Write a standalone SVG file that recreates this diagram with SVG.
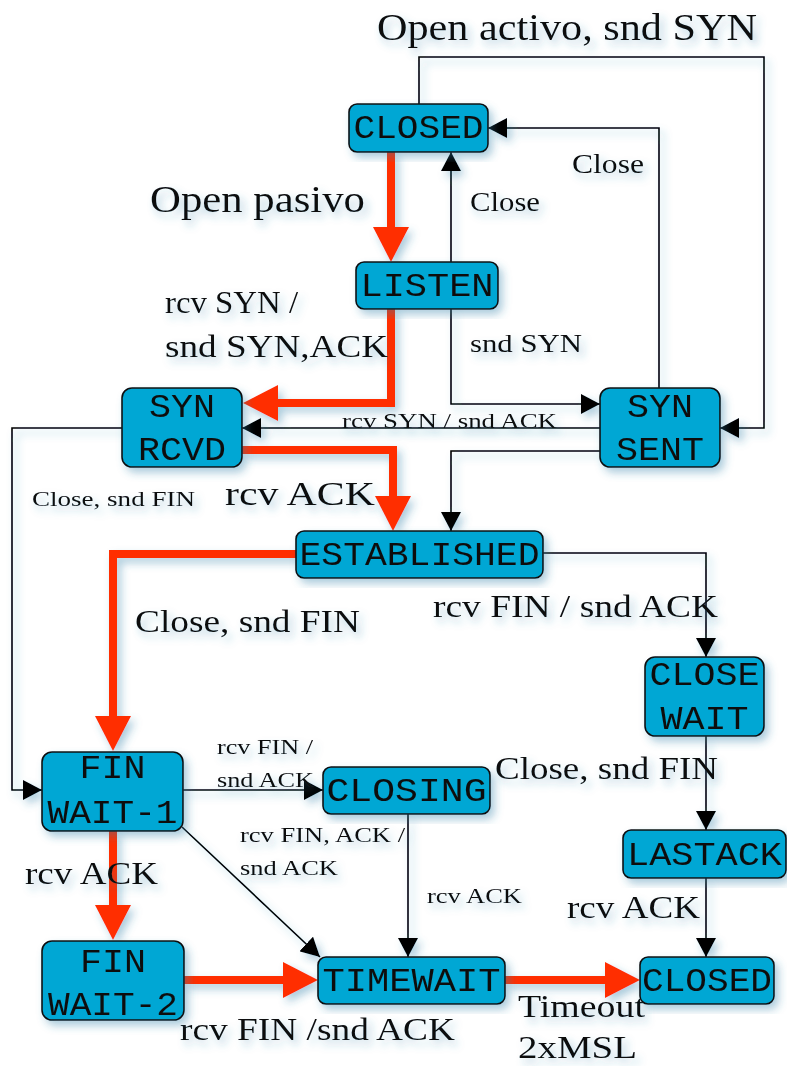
<svg xmlns="http://www.w3.org/2000/svg" width="787" height="1066" viewBox="0 0 787 1066">
<defs>
<filter id="sh" x="-20%" y="-20%" width="140%" height="140%">
<feDropShadow dx="4" dy="5" stdDeviation="4" flood-color="#2f7fa8" flood-opacity="0.4"/>
</filter>
<marker id="ab" markerUnits="userSpaceOnUse" markerWidth="20" markerHeight="20" refX="19" refY="10" orient="auto">
<path d="M0,0 L19,10 L0,20 z" fill="#000"/>
</marker>
<marker id="ar" markerUnits="userSpaceOnUse" markerWidth="36" markerHeight="36" refX="0" refY="18" orient="auto">
<path d="M0,0 L35,18 L0,36 z" fill="#ff2e00"/>
</marker>
</defs>
<style>
.n rect{fill:#00a7d4;stroke:#111;stroke-width:1.6}
.n text{font-family:"Liberation Mono","Courier New",monospace;font-size:34px;fill:#111;text-anchor:middle}
.b{fill:none;stroke:#000;stroke-width:1.6;marker-end:url(#ab)}
.r{fill:none;stroke:#ff2e00;stroke-width:8;marker-end:url(#ar)}
.l{font-family:"Liberation Serif","Times New Roman",serif;fill:#111}
</style>
<rect width="787" height="1066" fill="#fff"/>
<g id="connectors" filter="url(#sh)">
<path class="b" d="M419,104 V57 H764 V428 H720"/>
<path class="b" d="M659,388 V128 H488"/>
<path class="b" d="M451,262 V152"/>
<path class="b" d="M451,309 V404 H600"/>
<path class="b" d="M600,428 H242"/>
<path class="b" d="M600,451 H451 V531"/>
<path class="b" d="M122,428 H12 V790 H42"/>
<path class="b" d="M543,553 H706 V657"/>
<path class="b" d="M706,736 V830"/>
<path class="b" d="M706,878 V957"/>
<path class="b" d="M183,790 H323"/>
<path class="b" d="M182,827 L320,957"/>
<path class="b" d="M408,814 V957"/>
<path class="r" d="M391,152 V227"/>
<path class="r" d="M391,309 V403 H278"/>
<path class="r" d="M242,450 H393 V496"/>
<path class="r" d="M296,554 H113 V716"/>
<path class="r" d="M113,831 V905"/>
<path class="r" d="M184,980 H283"/>
<path class="r" d="M505,980 H605"/>
</g>
<g id="labels" class="l" filter="url(#sh)">
<text x="377" y="40" font-size="38" textLength="380" lengthAdjust="spacingAndGlyphs">Open activo, snd SYN</text>
<text x="572" y="173" font-size="27" textLength="72" lengthAdjust="spacingAndGlyphs">Close</text>
<text x="150" y="212" font-size="38" textLength="215" lengthAdjust="spacingAndGlyphs">Open pasivo</text>
<text x="470" y="211" font-size="27" textLength="70" lengthAdjust="spacingAndGlyphs">Close</text>
<text x="165" y="313" font-size="32" textLength="133" lengthAdjust="spacingAndGlyphs">rcv SYN /</text>
<text x="165" y="357" font-size="32" textLength="223" lengthAdjust="spacingAndGlyphs">snd SYN,ACK</text>
<text x="470" y="352" font-size="26" textLength="112" lengthAdjust="spacingAndGlyphs">snd SYN</text>
<text x="342" y="428" font-size="22" textLength="215" lengthAdjust="spacingAndGlyphs">rcv SYN / snd ACK</text>
<text x="225" y="505" font-size="33" textLength="150" lengthAdjust="spacingAndGlyphs">rcv ACK</text>
<text x="32" y="506" font-size="21" textLength="163" lengthAdjust="spacingAndGlyphs">Close,  snd FIN</text>
<text x="135" y="632" font-size="31" textLength="225" lengthAdjust="spacingAndGlyphs">Close, snd FIN</text>
<text x="433" y="617" font-size="31" textLength="285" lengthAdjust="spacingAndGlyphs">rcv FIN / snd ACK</text>
<text x="495" y="779" font-size="31" textLength="223" lengthAdjust="spacingAndGlyphs">Close, snd FIN</text>
<text x="217" y="754" font-size="20" textLength="96" lengthAdjust="spacingAndGlyphs">rcv FIN /</text>
<text x="217" y="787" font-size="20" textLength="97" lengthAdjust="spacingAndGlyphs">snd ACK</text>
<text x="240" y="842" font-size="22" textLength="165" lengthAdjust="spacingAndGlyphs">rcv FIN, ACK /</text>
<text x="240" y="875" font-size="22" textLength="98" lengthAdjust="spacingAndGlyphs">snd ACK</text>
<text x="427" y="903" font-size="21" textLength="95" lengthAdjust="spacingAndGlyphs">rcv ACK</text>
<text x="25" y="884" font-size="31" textLength="133" lengthAdjust="spacingAndGlyphs">rcv ACK</text>
<text x="567" y="918" font-size="31" textLength="133" lengthAdjust="spacingAndGlyphs">rcv ACK</text>
<text x="180" y="1040" font-size="31" textLength="275" lengthAdjust="spacingAndGlyphs">rcv FIN /snd ACK</text>
<text x="518" y="1017" font-size="31" textLength="127" lengthAdjust="spacingAndGlyphs">Timeout</text>
<text x="518" y="1058" font-size="31" textLength="119" lengthAdjust="spacingAndGlyphs">2xMSL</text>
</g>
<g id="closed-top" class="n" filter="url(#sh)"><rect x="349" y="104" width="139" height="48" rx="8"/><text x="418.5" y="138" textLength="130" lengthAdjust="spacingAndGlyphs">CLOSED</text></g>
<g id="listen" class="n" filter="url(#sh)"><rect x="356" y="262" width="142" height="47" rx="8"/><text x="427" y="296" textLength="133" lengthAdjust="spacingAndGlyphs">LISTEN</text></g>
<g id="syn-rcvd" class="n" filter="url(#sh)"><rect x="122" y="388" width="120" height="79" rx="10"/><text x="182" y="417" textLength="66" lengthAdjust="spacingAndGlyphs">SYN</text><text x="182" y="460" textLength="88" lengthAdjust="spacingAndGlyphs">RCVD</text></g>
<g id="syn-sent" class="n" filter="url(#sh)"><rect x="600" y="388" width="120" height="79" rx="10"/><text x="660" y="417" textLength="66" lengthAdjust="spacingAndGlyphs">SYN</text><text x="660" y="460" textLength="88" lengthAdjust="spacingAndGlyphs">SENT</text></g>
<g id="established" class="n" filter="url(#sh)"><rect x="296" y="531" width="247" height="47" rx="8"/><text x="419.5" y="565" textLength="240" lengthAdjust="spacingAndGlyphs">ESTABLISHED</text></g>
<g id="close-wait" class="n" filter="url(#sh)"><rect x="645" y="657" width="119" height="79" rx="10"/><text x="704.5" y="685" textLength="110" lengthAdjust="spacingAndGlyphs">CLOSE</text><text x="704.5" y="729" textLength="88" lengthAdjust="spacingAndGlyphs">WAIT</text></g>
<g id="lastack" class="n" filter="url(#sh)"><rect x="623" y="830" width="163" height="48" rx="8"/><text x="704.5" y="864.5" textLength="155" lengthAdjust="spacingAndGlyphs">LASTACK</text></g>
<g id="fin-wait-1" class="n" filter="url(#sh)"><rect x="42" y="752" width="141" height="79" rx="10"/><text x="112.5" y="778" textLength="66" lengthAdjust="spacingAndGlyphs">FIN</text><text x="112.5" y="823" textLength="130" lengthAdjust="spacingAndGlyphs">WAIT-1</text></g>
<g id="closing" class="n" filter="url(#sh)"><rect x="323" y="767" width="167" height="47" rx="8"/><text x="406.5" y="801" textLength="160" lengthAdjust="spacingAndGlyphs">CLOSING</text></g>
<g id="fin-wait-2" class="n" filter="url(#sh)"><rect x="42" y="941" width="142" height="79" rx="10"/><text x="113" y="972" textLength="66" lengthAdjust="spacingAndGlyphs">FIN</text><text x="113" y="1015" textLength="130" lengthAdjust="spacingAndGlyphs">WAIT-2</text></g>
<g id="timewait" class="n" filter="url(#sh)"><rect x="318" y="957" width="187" height="47" rx="8"/><text x="411.5" y="991" textLength="178" lengthAdjust="spacingAndGlyphs">TIMEWAIT</text></g>
<g id="closed-bottom" class="n" filter="url(#sh)"><rect x="640" y="957" width="134" height="47" rx="8"/><text x="707" y="991" textLength="130" lengthAdjust="spacingAndGlyphs">CLOSED</text></g>
</svg>
